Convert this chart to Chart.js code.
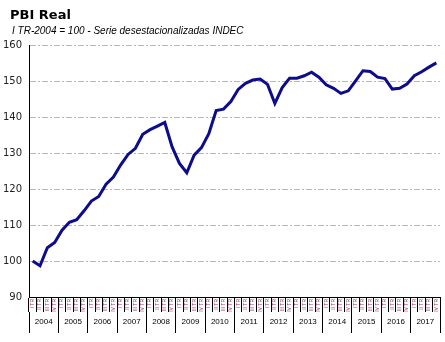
<!DOCTYPE html>
<html>
<head>
<meta charset="utf-8">
<script src="https://cdn.jsdelivr.net/npm/chart.js@4.4.1/dist/chart.umd.min.js"></script>
<style>
  html, body { margin: 0; padding: 0; background: #fff; }
  #wrap { width: 445px; height: 342px; position: relative; }
</style>
</head>
<body>
<div id="wrap"><canvas id="pbiChart"></canvas></div>
<script>
// datos
const years = ['2004', '2005', '2006', '2007', '2008', '2009', '2010',
               '2011', '2012', '2013', '2014', '2015', '2016', '2017'];
const quarterNames = ['I TR', 'II TR', 'III TR', 'IV TR'];
const pbiValues = [
    100.0, 98.7, 103.7, 105.2,
    108.6, 110.8, 111.5, 114.0,
    116.7, 118.0, 121.4, 123.4,
    126.8, 129.7, 131.4, 135.3,
    136.6, 137.6, 138.6, 131.8,
    127.2, 124.6, 129.5, 131.6,
    135.5, 141.9, 142.3, 144.4,
    147.8, 149.5, 150.4, 150.7,
    149.2, 143.9, 148.3, 150.9,
    150.9, 151.6, 152.6, 151.2,
    149.1, 148.1, 146.7, 147.4,
    150.2, 153.0, 152.8, 151.2,
    150.8, 147.9, 148.1, 149.3,
    151.6, 152.7, 154.0, 155.2
];
const yTicks = [90, 100, 110, 120, 130, 140, 150, 160];

const titleText = 'PBI Real';
const subtitleText = 'I TR-2004 = 100 - Serie desestacionalizadas INDEC';

const quarterLabels = [];
years.forEach(function () {
    quarterNames.forEach(function (q) { quarterLabels.push(q); });
});

// corre el titulo un poco a la derecha (el eje y necesita el margen izquierdo)
const shiftTitles = {
    id: 'shiftTitles',
    afterLayout: function (chart) {
        chart.boxes.forEach(function (b) {
            if (!b.options) return;
            if (b.options.text === titleText) b.left = 10;
            if (b.options.text === subtitleText) b.left = 12;
        });
    }
};

var ctx = document.getElementById('pbiChart');
new Chart(ctx, {
    type: 'line',
    data: {
        labels: quarterLabels,
        datasets: [{
            data: pbiValues,
            borderColor: '#0c0c8c',
            borderWidth: 3,
            pointRadius: 0,
            tension: 0,
            fill: false
        }]
    },
    plugins: [shiftTitles],
    options: {
        responsive: true,
        maintainAspectRatio: false,
        animation: false,
        layout: { padding: { left: 3, right: 5, top: 3, bottom: 9 } },
        plugins: {
            legend: { display: false },
            tooltip: { enabled: false },
            title: {
                display: true,
                text: titleText,
                align: 'start',
                color: '#000',
                font: { family: 'DejaVu Sans', size: 13, weight: 'bold' },
                padding: { top: 5, bottom: 2 }
            },
            subtitle: {
                display: true,
                text: subtitleText,
                align: 'start',
                color: '#000',
                font: { family: 'Liberation Sans', size: 10, style: 'italic' },
                padding: { top: 0, bottom: 8 }
            }
        },
        scales: {
            x: {
                type: 'category',
                position: 'bottom',
                offset: true,
                grid: { offset: true, drawOnChartArea: false, tickLength: 15, color: '#000' },
                border: { display: true, color: '#000', width: 1 },
                ticks: {
                    autoSkip: false, minRotation: 90, maxRotation: 90, padding: -13,
                    color: '#993366',
                    font: { family: 'Liberation Sans', size: 5 }
                },
                afterFit: function (s) { s.height = 15; }
            },
            x2: {
                type: 'category',
                labels: years,
                position: 'bottom',
                offset: true,
                grid: { offset: true, drawOnChartArea: false, tickLength: 21, color: '#000' },
                border: { display: false },
                ticks: {
                    autoSkip: false, maxRotation: 0, padding: -16,
                    color: '#000',
                    font: { family: 'Liberation Sans', size: 8 }
                },
                afterFit: function (s) { s.height = 21; }
            },
            y: {
                min: 90,
                max: 160,
                afterBuildTicks: function (s) {
                    s.ticks = yTicks.map(function (v) { return { value: v }; });
                },
                grid: {
                    drawTicks: false,
                    color: function (c) {
                        return c.tick && c.tick.value === 90 ? 'rgba(0,0,0,0)' : '#b8b8b8';
                    }
                },
                border: { display: true, color: '#000', width: 1, dash: [6, 2, 2, 2] },
                ticks: {
                    padding: 7,
                    color: '#222',
                    font: { family: 'DejaVu Sans', size: 10 }
                },
                afterFit: function (s) { s.width = 26; }
            }
        }
    }
});
</script>
</body>
</html>
